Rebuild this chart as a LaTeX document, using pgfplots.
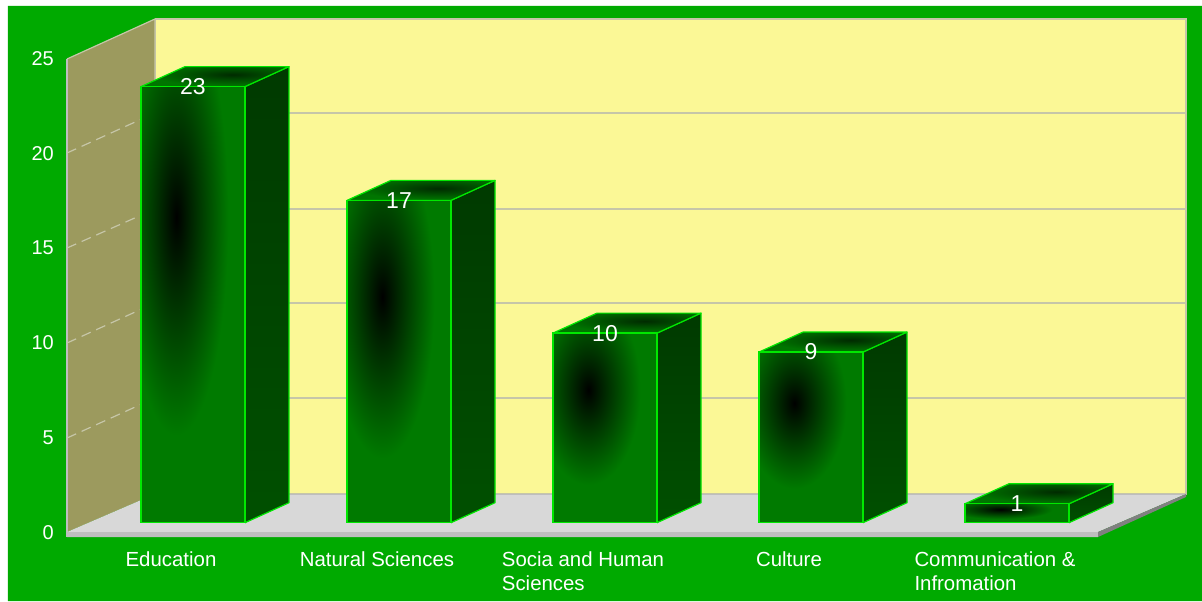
\documentclass[border=0pt]{standalone}
\usepackage{pgfplots}
\pgfplotsset{compat=1.18}
\usepackage{fontspec}
\setmainfont{Liberation Sans}
\definecolor{bg}{HTML}{00AA00}
\definecolor{wallback}{HTML}{FBF896}
\definecolor{wallleft}{HTML}{9C9A5E}
\definecolor{floorc}{HTML}{D8D8D8}
\definecolor{floors}{HTML}{BEBEBE}
\definecolor{gridc}{HTML}{C6C6A8}
\definecolor{edge}{HTML}{00E800}
\pgfdeclarefunctionalshading{frontbar}{\pgfpoint{-50bp}{-50bp}}{\pgfpoint{50bp}{50bp}}{}{
  10 sub dup mul exch 8 add dup mul add sqrt
  25 div dup 1 gt {pop 1} if 0.95 exp 0.478 mul
  0 exch 0
}
\pgfdeclarefunctionalshading{topbar}{\pgfpoint{-50bp}{-50bp}}{\pgfpoint{50bp}{50bp}}{}{
  5 sub dup mul exch 6 sub dup mul add sqrt
  28 div dup 1 gt {pop 1} if 0.62 mul 0.36 add 0.47 mul
  0 exch 0
}
\pgfdeclareverticalshading{sidebar}{100bp}{
  color(0bp)=({rgb,255:red,0;green,80;blue,0});
  color(25bp)=({rgb,255:red,0;green,80;blue,0});
  color(75bp)=({rgb,255:red,0;green,58;blue,0});
  color(100bp)=({rgb,255:red,0;green,58;blue,0})}
\pgfplotsset{
  px/.style={x filter/.expression={(x-193)/206},y filter/.expression={(522.7-y)/18.96},forget plot},
  side/.style={shade,shading=sidebar,draw=edge,line width=1.2pt,line join=round},
  topf/.style={shade,shading=topbar,draw=edge,line width=1.2pt,line join=round},
  front/.style={ybar,bar width=104pt,bar shift=0pt,shade,shading=frontbar,draw=edge,line width=1.4pt,
    nodes near coords,
    every node near coord/.append style={anchor=center,text=white,inner sep=0pt,yshift=0pt,
      font=\fontsize{23}{24}\selectfont,/pgf/number format/assume math mode=true}},
}
\begin{document}
\begin{tikzpicture}
\begin{axis}[
  scale only axis,width=1202pt,height=601pt,
  xmin=-0.93689,xmax=4.89806,ymin=-4.1297,ymax=27.5686,
  axis line style={draw=none},
  major tick length=0pt,
  tick style={draw=none},
  xtick={0,1,2,3,4},
  xticklabels={Education,Natural Sciences,{Socia and Human\\Sciences},Culture,{Communication \&\\Infromation}},
  ytick={0,5,10,15,20,25},
  /pgf/number format/assume math mode=true,
  yticklabel style={anchor=east,xshift=54pt,yshift=-9.8pt,inner sep=0pt,text=white,font=\fontsize{20}{24}\selectfont},
  xticklabel style={anchor=north,align=left,xshift=-22pt,yshift=49.5pt,inner sep=0pt,text=white,font=\fontsize{20.4}{24}\selectfont},
  axis on top=true,
]
% page and frame
\addplot[px,fill=white,draw=none] coordinates {(0,0)(1202,0)(1202,601)(0,601)(0,0)};
\addplot[px,fill=bg,draw=none] coordinates {(8,6)(1202,6)(1202,601)(8,601)(8,6)};
% back wall
\addplot[px,fill=wallback,draw=gridc,line width=1.2pt] coordinates {(155,19)(1186,19)(1186,494)(155,494)(155,19)};
\addplot[px,draw=gridc,line width=1.6pt] coordinates {(155,113)(1186,113)};
\addplot[px,draw=gridc,line width=1.6pt] coordinates {(155,209)(1186,209)};
\addplot[px,draw=gridc,line width=1.6pt] coordinates {(155,303)(1186,303)};
\addplot[px,draw=gridc,line width=1.6pt] coordinates {(155,398)(1186,398)};
% left wall
\addplot[px,fill=wallleft,draw=none] coordinates {(67,59)(155,19)(155,494)(67,532)(67,59)};
\addplot[px,draw=gridc,line width=1.2pt] coordinates {(67,59)(155,19)(155,494)};
\addplot[px,draw=floors,line width=1.2pt] coordinates {(67,59)(67,537)};
\addplot[px,draw=gridc,line width=1.2pt,dash pattern=on 10pt off 6pt] coordinates {(67,153)(155,113)};
\addplot[px,draw=gridc,line width=1.2pt,dash pattern=on 10pt off 6pt] coordinates {(67,248)(155,209)};
\addplot[px,draw=gridc,line width=1.2pt,dash pattern=on 10pt off 6pt] coordinates {(67,343)(155,303)};
\addplot[px,draw=gridc,line width=1.2pt,dash pattern=on 10pt off 6pt] coordinates {(67,438)(155,398)};
% floor
\addplot[px,fill=floorc,draw=none] coordinates {(67,532)(155,494)(1186,494)(1098,532)(67,532)};
\addplot[px,draw=floors,line width=1pt] coordinates {(155,494)(1186,494)};
\addplot[px,fill=floors,draw=none] coordinates {(67,532)(1098,532)(1098,537)(67,537)(67,532)};
\addplot[px,fill=gray,draw=none] coordinates {(1098,532)(1186,494)(1186,497)(1098,537)(1098,532)};
% Education: 23
\addplot[side] coordinates {(0.2524,0)(0.466,1.055)(0.466,24.055)(0.2524,23)(0.2524,0)};
\addplot[topf] coordinates {(-0.2524,23)(-0.0388,24.055)(0.466,24.055)(0.2524,23)(-0.2524,23)};
\addplot[front] coordinates {(0,23)};
% Natural Sciences: 17
\addplot[side] coordinates {(1.2524,0)(1.466,1.055)(1.466,18.055)(1.2524,17)(1.2524,0)};
\addplot[topf] coordinates {(0.7476,17)(0.9612,18.055)(1.466,18.055)(1.2524,17)(0.7476,17)};
\addplot[front] coordinates {(1,17)};
% Socia and Human Sciences: 10
\addplot[side] coordinates {(2.2524,0)(2.466,1.055)(2.466,11.055)(2.2524,10)(2.2524,0)};
\addplot[topf] coordinates {(1.7476,10)(1.9612,11.055)(2.466,11.055)(2.2524,10)(1.7476,10)};
\addplot[front] coordinates {(2,10)};
% Culture: 9
\addplot[side] coordinates {(3.2524,0)(3.466,1.055)(3.466,10.055)(3.2524,9)(3.2524,0)};
\addplot[topf] coordinates {(2.7476,9)(2.9612,10.055)(3.466,10.055)(3.2524,9)(2.7476,9)};
\addplot[front] coordinates {(3,9)};
% Communication & Infromation: 1
\addplot[side] coordinates {(4.2524,0)(4.466,1.055)(4.466,2.055)(4.2524,1)(4.2524,0)};
\addplot[topf] coordinates {(3.7476,1)(3.9612,2.055)(4.466,2.055)(4.2524,1)(3.7476,1)};
\addplot[front] coordinates {(4,1)};
\end{axis}
\end{tikzpicture}
\end{document}
